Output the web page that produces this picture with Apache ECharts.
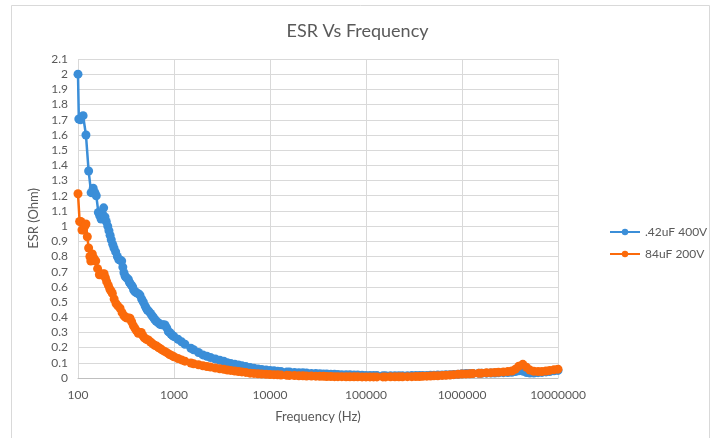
<!DOCTYPE html>
<html>
<head>
<meta charset="utf-8">
<script src="https://cdn.jsdelivr.net/npm/echarts@6/dist/echarts.min.js"></script>
<style>
html,body{margin:0;padding:0;background:#fff;}
#chart{width:715px;height:438px;}
</style>
</head>
<body>
<div id="chart"></div>
<script>
// ---- Data ----
const freqBlue = [
  100,102,106,113,121,129,137,144,150,155,163,168,174,180,185,191,197,204,210,216,222,230,237,247,257,266,276,285,293,301,310,320,334,343,352,361,371,380,390,399,408,425,442,460,479,500,513,527,545,570,590,609,630,650,680,714,745,775,806,840,874,900,930,965,
  1000,1100,1200,1300,1500,1600,1800,2000,2200,2400,2700,3000,3300,3600,3900,4300,4700,5100,5600,6200,6800,7500,8200,9100,
  10000,11000,12000,13000,15000,16000,18000,20000,22000,24000,27000,30000,33000,36000,39000,43000,47000,51000,56000,62000,68000,75000,82000,91000,
  100000,110000,120000,130000,150000,160000,180000,200000,220000,240000,270000,300000,330000,360000,390000,430000,470000,510000,560000,620000,680000,750000,820000,910000,
  1000000,1100000,1200000,1300000,1500000,1600000,1800000,2000000,2200000,2400000,2700000,3000000,3300000,3600000,3900000,4300000,4700000,5100000,5600000,6200000,6800000,7500000,8200000,9100000,10000000
];
const esrBlue = [
  2.00,1.705,1.70,1.727,1.60,1.363,1.22,1.249,1.22,1.20,1.09,1.07,1.047,1.08,1.12,1.06,1.03,1.00,0.97,0.94,0.91,0.88,0.856,0.83,0.80,0.78,0.775,0.77,0.73,0.693,0.67,0.66,0.65,0.63,0.62,0.61,0.60,0.58,0.57,0.565,0.56,0.555,0.546,0.52,0.50,0.475,0.46,0.448,0.44,0.425,0.41,0.40,0.385,0.375,0.365,0.353,0.35,0.35,0.349,0.33,0.305,0.30,0.29,0.28,
  0.272,0.255,0.238,0.222,0.196,0.186,0.168,0.152,0.143,0.135,0.125,0.117,0.111,0.100,0.096,0.090,0.085,0.080,0.075,0.069,0.064,0.060,0.056,0.052,
  0.049,0.047,0.045,0.043,0.040,0.039,0.037,0.035,0.034,0.033,0.030,0.029,0.028,0.027,0.026,0.025,0.024,0.023,0.022,0.021,0.021,0.020,0.019,0.018,
  0.017,0.016,0.016,0.016,0.015,0.015,0.015,0.015,0.015,0.015,0.015,0.016,0.016,0.016,0.017,0.017,0.018,0.018,0.019,0.020,0.021,0.022,0.023,0.025,
  0.028,0.029,0.029,0.030,0.031,0.031,0.032,0.033,0.033,0.034,0.035,0.036,0.038,0.042,0.048,0.045,0.036,0.033,0.033,0.035,0.037,0.040,0.043,0.047,0.050
];
const freqOrange = [
  100,104,107,110,114,118,121,125,129,133,136,139,141,146,150,153,160,167,175,181,187,193,199,207,215,222,228,238,249,260,274,288,301,313,325,337,348,362,377,392,408,424,440,456,472,490,515,540,570,600,630,660,690,714,750,800,850,900,950,
  1000,1100,1200,1300,1500,1600,1800,2000,2200,2400,2700,3000,3300,3600,3900,4300,4700,5100,5600,6200,6800,7500,8200,9100,
  10000,11000,12000,13000,15000,16000,18000,20000,22000,24000,27000,30000,33000,36000,39000,43000,47000,51000,56000,62000,68000,75000,82000,91000,
  100000,110000,120000,130000,150000,160000,180000,200000,220000,240000,270000,300000,330000,360000,390000,430000,470000,510000,560000,620000,680000,750000,820000,910000,
  1000000,1100000,1200000,1300000,1500000,1600000,1800000,2000000,2200000,2400000,2700000,3000000,3300000,3600000,3900000,4300000,4700000,5100000,5600000,6200000,6800000,7500000,8200000,9100000,10000000
];
const esrOrange = [
  1.213,1.03,1.03,0.974,0.975,1.00,1.014,0.93,0.856,0.80,0.77,0.80,0.816,0.79,0.775,0.77,0.72,0.68,0.68,0.685,0.687,0.66,0.634,0.61,0.584,0.57,0.557,0.52,0.49,0.475,0.459,0.43,0.41,0.40,0.395,0.395,0.393,0.37,0.345,0.327,0.31,0.294,0.30,0.30,0.28,0.265,0.255,0.25,0.237,0.225,0.215,0.21,0.20,0.195,0.185,0.175,0.165,0.155,0.147,
  0.140,0.128,0.119,0.111,0.099,0.094,0.087,0.081,0.076,0.072,0.066,0.061,0.057,0.053,0.050,0.046,0.043,0.040,0.037,0.032,0.030,0.028,0.026,0.025,
  0.023,0.022,0.021,0.020,0.018,0.017,0.016,0.015,0.014,0.013,0.013,0.012,0.011,0.011,0.010,0.010,0.009,0.009,0.009,0.008,0.008,0.008,0.008,0.007,
  0.007,0.007,0.007,0.007,0.007,0.007,0.008,0.008,0.008,0.008,0.009,0.009,0.010,0.010,0.011,0.012,0.013,0.014,0.015,0.017,0.018,0.020,0.022,0.024,
  0.026,0.027,0.028,0.029,0.031,0.032,0.034,0.035,0.037,0.038,0.040,0.042,0.046,0.058,0.078,0.090,0.070,0.052,0.044,0.042,0.043,0.046,0.050,0.055,0.058
];
const seriesNames = ['.42uF 400V', '84uF 200V'];
const seriesColors = ['#3b8ed8', '#fb6a0b'];

const pairs = (xs, ys) => xs.map((x, i) => [x, ys[i]]);

const chart = echarts.init(document.getElementById('chart'), null, {renderer: 'canvas'});
const FONT = 'Lato, "Open Sans", sans-serif';
chart.setOption({
  animation: false,
  backgroundColor: '#ffffff',
  textStyle: {fontFamily: FONT},
  title: {
    text: 'ESR Vs Frequency',
    left: 'center',
    top: 17,
    textStyle: {fontFamily: FONT, fontSize: 18, fontWeight: 'normal', color: '#595959'}
  },
  graphic: [{
    type: 'rect', silent: true, z: -1,
    shape: {x: 11.5, y: 5.5, width: 698, height: 440},
    style: {fill: 'none', stroke: '#d9d9d9', lineWidth: 1}
  }],
  legend: {
    orient: 'vertical',
    left: 604,
    top: 221,
    itemWidth: 30,
    itemHeight: 8,
    itemGap: 10,
    textStyle: {fontFamily: FONT, fontSize: 12, color: '#595959'},
    data: seriesNames
  },
  grid: {left: 78, right: 157, top: 59, bottom: 60, containLabel: false},
  xAxis: {
    type: 'log',
    logBase: 10,
    min: 100,
    max: 10000000,
    name: 'Frequency (Hz)',
    nameLocation: 'middle',
    nameGap: 32,
    nameTextStyle: {fontFamily: FONT, fontSize: 13, color: '#595959'},
    axisLine: {show: true, lineStyle: {color: '#bfbfbf', width: 1}},
    axisTick: {show: false},
    minorTick: {show: false},
    axisLabel: {color: '#595959', fontSize: 12, margin: 11, formatter: v => String(Math.round(v))},
    splitLine: {show: true, lineStyle: {color: '#d9d9d9', width: 1}}
  },
  yAxis: {
    type: 'value',
    min: 0,
    max: 2.1,
    interval: 0.1,
    name: 'ESR (Ohm)',
    nameLocation: 'middle',
    nameGap: 37,
    nameTextStyle: {fontFamily: FONT, fontSize: 13, color: '#595959'},
    axisLine: {show: false},
    axisTick: {show: false},
    axisLabel: {color: '#595959', fontSize: 12, margin: 10, formatter: v => String(+v.toFixed(1))},
    splitLine: {show: true, lineStyle: {color: '#d9d9d9', width: 1}}
  },
  series: [
    {
      name: seriesNames[0], type: 'line', data: pairs(freqBlue, esrBlue),
      symbol: 'circle', symbolSize: 9, color: seriesColors[0],
      lineStyle: {width: 2.5, color: seriesColors[0]},
      itemStyle: {color: seriesColors[0]}
    },
    {
      name: seriesNames[1], type: 'line', data: pairs(freqOrange, esrOrange),
      symbol: 'circle', symbolSize: 9, color: seriesColors[1],
      lineStyle: {width: 2.5, color: seriesColors[1]},
      itemStyle: {color: seriesColors[1]}
    }
  ]
});
</script>
</body>
</html>
